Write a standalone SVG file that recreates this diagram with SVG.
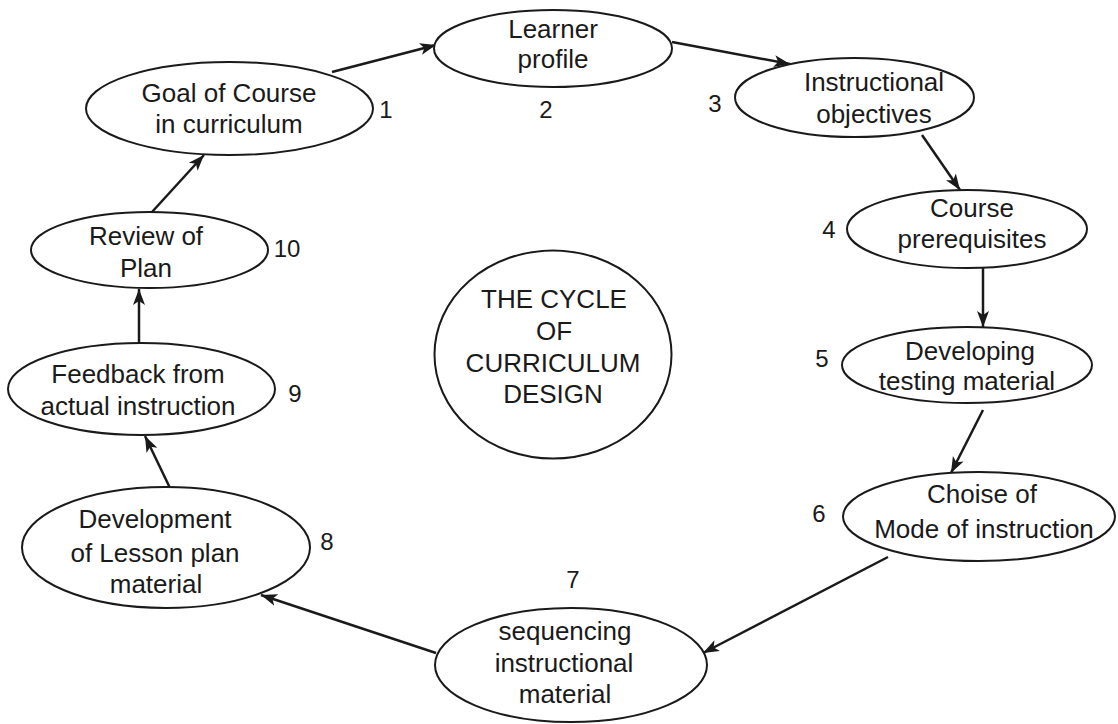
<svg xmlns="http://www.w3.org/2000/svg" width="1118" height="724" viewBox="0 0 1118 724">
<style>
.n ellipse{fill:#fff;stroke:#1a1a1a;stroke-width:2}
text{font-family:"Liberation Sans",Arial,sans-serif;font-size:26px;fill:#1a1a1a;text-anchor:middle}
.num{font-size:24px}
.c line{stroke:#1a1a1a;stroke-width:2.5;marker-end:url(#ah)}
</style>
<defs>
<marker id="ah" markerUnits="userSpaceOnUse" markerWidth="18" markerHeight="14" refX="16" refY="7" orient="auto">
<path d="M0,1 L16,7 L0,13 L4,7 Z" fill="#1a1a1a"/>
</marker>
</defs>
<rect width="1118" height="724" fill="#fff"/>
<g class="c" id="connectors">
<line x1="332" y1="72" x2="436" y2="45"/>
<line x1="672" y1="42" x2="790" y2="64"/>
<line x1="922" y1="135" x2="960" y2="190"/>
<line x1="983" y1="268" x2="983" y2="327"/>
<line x1="983" y1="410" x2="951" y2="473"/>
<line x1="888" y1="557" x2="703" y2="653"/>
<line x1="436" y1="653" x2="261" y2="595"/>
<line x1="170" y1="488" x2="145" y2="436"/>
<line x1="139" y1="343" x2="139" y2="289"/>
<line x1="152" y1="212" x2="204" y2="155"/>
</g>
<g class="n" id="n1">
<ellipse cx="229.5" cy="108.5" rx="143.5" ry="46.5"/>
<text x="229" y="102">Goal of Course</text>
<text x="229" y="133">in curriculum</text>
<text class="num" x="386" y="118">1</text>
</g>
<g class="n" id="n2">
<ellipse cx="553" cy="48.5" rx="119" ry="38.5"/>
<text x="553" y="38">Learner</text>
<text x="553" y="68">profile</text>
<text class="num" x="546" y="118">2</text>
</g>
<g class="n" id="n3">
<ellipse cx="854.5" cy="97.5" rx="119.5" ry="39.5"/>
<text x="874" y="91">Instructional</text>
<text x="874" y="123">objectives</text>
<text class="num" x="715" y="112">3</text>
</g>
<g class="n" id="n4">
<ellipse cx="967" cy="229" rx="120" ry="39"/>
<text x="972" y="217">Course</text>
<text x="972" y="248">prerequisites</text>
<text class="num" x="829" y="238">4</text>
</g>
<g class="n" id="n5">
<ellipse cx="967" cy="365" rx="125" ry="38"/>
<text x="970" y="360">Developing</text>
<text x="967" y="390">testing material</text>
<text class="num" x="822" y="367">5</text>
</g>
<g class="n" id="n6">
<ellipse cx="979" cy="516.5" rx="136" ry="44.5"/>
<text x="982" y="503">Choise of</text>
<text x="984" y="538">Mode of instruction</text>
<text class="num" x="819" y="522">6</text>
</g>
<g class="n" id="n7">
<ellipse cx="571" cy="665" rx="136" ry="57"/>
<text x="565" y="640">sequencing</text>
<text x="564" y="672">instructional</text>
<text x="565" y="703">material</text>
<text class="num" x="573" y="588">7</text>
</g>
<g class="n" id="n8">
<ellipse cx="166" cy="547.5" rx="144" ry="60.5"/>
<text x="155" y="528">Development</text>
<text x="155" y="562">of Lesson plan</text>
<text x="156" y="593">material</text>
<text class="num" x="327" y="550">8</text>
</g>
<g class="n" id="n9">
<ellipse cx="141.5" cy="389" rx="133.5" ry="46"/>
<text x="138" y="383">Feedback from</text>
<text x="138" y="415">actual instruction</text>
<text class="num" x="295" y="402">9</text>
</g>
<g class="n" id="n10">
<ellipse cx="149.5" cy="250" rx="118.5" ry="38"/>
<text x="146" y="245">Review of</text>
<text x="146" y="277">Plan</text>
<text class="num" x="287" y="257">10</text>
</g>
<g class="n" id="center">
<ellipse cx="553" cy="354.5" rx="118.5" ry="104"/>
<text x="554" y="308">THE CYCLE</text>
<text x="554" y="340">OF</text>
<text x="553" y="372">CURRICULUM</text>
<text x="553" y="403">DESIGN</text>
</g>
</svg>
